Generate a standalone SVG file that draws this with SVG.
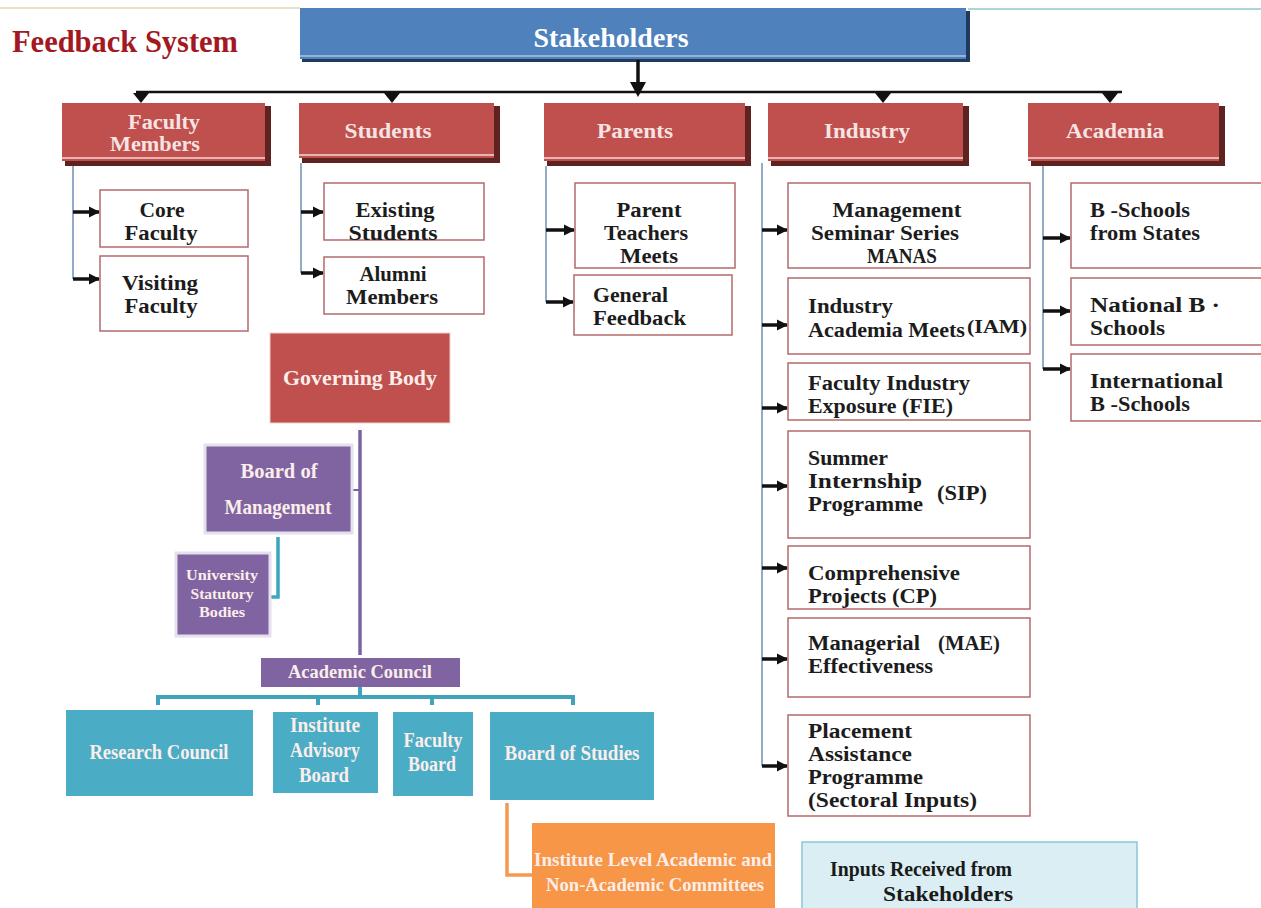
<svg xmlns="http://www.w3.org/2000/svg" width="1261" height="908" viewBox="0 0 1261 908">
<defs>
<style>
text{font-family:"Liberation Serif","DejaVu Serif",serif;font-weight:bold}
.hd{fill:#f6e4e3;font-size:22px;text-anchor:middle}
.bx{fill:#1c1c1c;font-size:20px}
.bc{fill:#1c1c1c;font-size:20px;text-anchor:middle}
.wt{fill:#fbeeea;text-anchor:middle}
.redbox{fill:#c0504d}
.shadow{fill:#5e2220}
.wbox{fill:#ffffff;stroke:#b46a6a;stroke-width:1.5}
.vline{stroke:#6f8fb5;stroke-width:1.5;fill:none}
.sarrow{stroke:#111;stroke-width:3.5;fill:none;marker-end:url(#ah)}
.cyan{fill:#4bacc6}
.purple{fill:#8064a2;stroke:#e6e0ee;stroke-width:3}
</style>
<marker id="ah" viewBox="0 0 10 10" refX="9" refY="5" markerWidth="3.2" markerHeight="3.2" orient="auto" markerUnits="strokeWidth">
<path d="M0,0 L10,5 L0,10 Z" fill="#111"/>
</marker>
</defs>
<rect width="1261" height="908" fill="#ffffff"/>
<line x1="0" y1="8" x2="300" y2="8" stroke="#e8e2c8" stroke-width="2"/>
<line x1="968" y1="9" x2="1261" y2="9" stroke="#8fc9c9" stroke-width="1.5"/>

<g id="title"><text x="12" y="52" style="fill:#a3191f;font-size:32px" textLength="226" lengthAdjust="spacingAndGlyphs">Feedback System</text></g>

<g id="stakeholders">
<rect x="302" y="11" width="668" height="51" fill="#1f3a5c"/>
<rect x="300" y="8" width="666" height="51" fill="#4f81bd"/>
<line x1="300" y1="56" x2="966" y2="56" stroke="#dce6f2" stroke-width="1"/>
<text x="611" y="47" style="fill:#ffffff;font-size:28px;text-anchor:middle" textLength="155" lengthAdjust="spacingAndGlyphs">Stakeholders</text>
</g>

<g id="connectors">
<line x1="638" y1="60" x2="638" y2="84" stroke="#111" stroke-width="3.5"/>
<path d="M630,82 L646,82 L638,97 Z" fill="#111"/>
<line x1="136" y1="92" x2="1122" y2="92" stroke="#111" stroke-width="2.5"/>
<path d="M133,93 L149,93 L141,103 Z" fill="#111"/>
<path d="M384,93 L400,93 L392,103 Z" fill="#111"/>
<path d="M875,93 L891,93 L883,103 Z" fill="#111"/>
<line x1="883" y1="92" x2="883" y2="100" stroke="#111" stroke-width="3"/>
<path d="M1102,93 L1118,93 L1110,103 Z" fill="#111"/>

<path class="vline" d="M73,165 V279"/>
<line class="sarrow" x1="73" y1="212" x2="99" y2="212"/>
<line class="sarrow" x1="73" y1="279" x2="99" y2="279"/>

<path class="vline" d="M301,163 V273"/>
<line class="sarrow" x1="301" y1="212" x2="323" y2="212"/>
<line class="sarrow" x1="301" y1="273" x2="323" y2="273"/>

<path class="vline" d="M546,166 V302"/>
<line class="sarrow" x1="546" y1="230" x2="574" y2="230"/>
<line class="sarrow" x1="546" y1="302" x2="573" y2="302"/>

<path class="vline" d="M762,163 V766"/>
<line class="sarrow" x1="762" y1="230" x2="787" y2="230"/>
<line class="sarrow" x1="762" y1="325" x2="787" y2="325"/>
<line class="sarrow" x1="762" y1="408" x2="787" y2="408"/>
<line class="sarrow" x1="762" y1="486" x2="787" y2="486"/>
<line class="sarrow" x1="762" y1="568" x2="787" y2="568"/>
<line class="sarrow" x1="762" y1="659" x2="787" y2="659"/>
<line class="sarrow" x1="762" y1="766" x2="787" y2="766"/>

<path class="vline" d="M1043,163 V369"/>
<line class="sarrow" x1="1043" y1="238" x2="1070" y2="238"/>
<line class="sarrow" x1="1043" y1="311" x2="1070" y2="311"/>
<line class="sarrow" x1="1043" y1="369" x2="1070" y2="369"/>

<line x1="360" y1="430" x2="360" y2="655" stroke="#7a62a0" stroke-width="3.5"/>
<line x1="352" y1="490" x2="360" y2="490" stroke="#7a62a0" stroke-width="2"/>
<path d="M278,537 V597 H271" stroke="#3aa7bd" stroke-width="3.5" fill="none"/>
<path d="M360,687 V697 M158,705 V697 H573 V705 M318,697 V705 M432,697 V705" stroke="#3fa3bb" stroke-width="4" fill="none"/>
<path d="M507,803 V875 H532" stroke="#f39a50" stroke-width="3.5" fill="none"/>
</g>

<g id="faculty-members">
<rect class="shadow" x="65" y="106" width="206" height="60"/>
<rect class="redbox" x="62" y="103" width="203" height="58"/>
<line x1="62" y1="158" x2="265" y2="158" stroke="#f4d7d6" stroke-width="1.5"/>
<text class="hd" x="164" y="129" style="font-size:20px" textLength="72" lengthAdjust="spacingAndGlyphs">Faculty</text>
<text class="hd" x="155" y="151" style="font-size:20px" textLength="90" lengthAdjust="spacingAndGlyphs">Members</text>
</g>
<g id="students">
<rect class="shadow" x="302" y="106" width="198" height="57"/>
<rect class="redbox" x="299" y="103" width="195" height="55"/>
<line x1="299" y1="155" x2="494" y2="155" stroke="#f4d7d6" stroke-width="1.5"/>
<text class="hd" x="388" y="138" textLength="87" lengthAdjust="spacingAndGlyphs">Students</text>
</g>
<g id="parents">
<rect class="shadow" x="547" y="106" width="204" height="60"/>
<rect class="redbox" x="544" y="103" width="201" height="58"/>
<line x1="544" y1="158" x2="745" y2="158" stroke="#f4d7d6" stroke-width="1.5"/>
<text class="hd" x="635" y="138" textLength="76" lengthAdjust="spacingAndGlyphs">Parents</text>
</g>
<g id="industry">
<rect class="shadow" x="771" y="106" width="198" height="60"/>
<rect class="redbox" x="768" y="103" width="195" height="58"/>
<line x1="768" y1="158" x2="963" y2="158" stroke="#f4d7d6" stroke-width="1.5"/>
<text class="hd" x="867" y="138" textLength="86" lengthAdjust="spacingAndGlyphs">Industry</text>
</g>
<g id="academia">
<rect class="shadow" x="1031" y="106" width="194" height="60"/>
<rect class="redbox" x="1028" y="103" width="191" height="58"/>
<line x1="1028" y1="158" x2="1219" y2="158" stroke="#f4d7d6" stroke-width="1.5"/>
<text class="hd" x="1115" y="138" textLength="98" lengthAdjust="spacingAndGlyphs">Academia</text>
</g>

<g id="core-faculty">
<rect class="wbox" x="100" y="190" width="148" height="57"/>
<text class="bc" x="162" y="217" textLength="45" lengthAdjust="spacingAndGlyphs">Core</text>
<text class="bc" x="161" y="240" textLength="73" lengthAdjust="spacingAndGlyphs">Faculty</text>
</g>
<g id="visiting-faculty">
<rect class="wbox" x="100" y="256" width="148" height="75"/>
<text class="bc" x="160" y="290" textLength="76" lengthAdjust="spacingAndGlyphs">Visiting</text>
<text class="bc" x="161" y="313" textLength="73" lengthAdjust="spacingAndGlyphs">Faculty</text>
</g>
<g id="existing-students">
<rect class="wbox" x="324" y="183" width="160" height="57"/>
<text class="bc" x="395" y="217" textLength="79" lengthAdjust="spacingAndGlyphs">Existing</text>
<text class="bc" x="393" y="240" textLength="89" lengthAdjust="spacingAndGlyphs">Students</text>
</g>
<g id="alumni-members">
<rect class="wbox" x="324" y="257" width="160" height="57"/>
<text class="bc" x="393" y="281" textLength="67" lengthAdjust="spacingAndGlyphs">Alumni</text>
<text class="bc" x="392" y="304" textLength="92" lengthAdjust="spacingAndGlyphs">Members</text>
</g>
<g id="parent-teachers-meets">
<rect class="wbox" x="575" y="183" width="160" height="85"/>
<text class="bc" x="649" y="217" textLength="65" lengthAdjust="spacingAndGlyphs">Parent</text>
<text class="bc" x="646" y="240" textLength="84" lengthAdjust="spacingAndGlyphs">Teachers</text>
<text class="bc" x="649" y="263" textLength="58" lengthAdjust="spacingAndGlyphs">Meets</text>
</g>
<g id="general-feedback">
<rect class="wbox" x="574" y="275" width="158" height="60"/>
<text class="bx" x="593" y="302" textLength="75" lengthAdjust="spacingAndGlyphs">General</text>
<text class="bx" x="593" y="325" textLength="93" lengthAdjust="spacingAndGlyphs">Feedback</text>
</g>

<g id="manas">
<rect class="wbox" x="788" y="183" width="242" height="85"/>
<text class="bc" x="897" y="217" textLength="129" lengthAdjust="spacingAndGlyphs">Management</text>
<text class="bc" x="885" y="240" textLength="148" lengthAdjust="spacingAndGlyphs">Seminar Series</text>
<text class="bc" x="902" y="263" textLength="70" lengthAdjust="spacingAndGlyphs">MANAS</text>
</g>
<g id="iam">
<rect class="wbox" x="788" y="278" width="242" height="76"/>
<text class="bx" x="808" y="313" textLength="85" lengthAdjust="spacingAndGlyphs">Industry</text>
<text class="bx" x="808" y="337" textLength="157" lengthAdjust="spacingAndGlyphs">Academia Meets</text>
<text class="bx" x="967" y="333" style="font-size:19px" textLength="60" lengthAdjust="spacingAndGlyphs">(IAM)</text>
</g>
<g id="fie">
<rect class="wbox" x="788" y="363" width="242" height="57"/>
<text class="bx" x="808" y="390" textLength="162" lengthAdjust="spacingAndGlyphs">Faculty Industry</text>
<text class="bx" x="808" y="413" textLength="145" lengthAdjust="spacingAndGlyphs">Exposure (FIE)</text>
</g>
<g id="sip">
<rect class="wbox" x="788" y="431" width="242" height="107"/>
<text class="bx" x="808" y="465" textLength="80" lengthAdjust="spacingAndGlyphs">Summer</text>
<text class="bx" x="808" y="488" textLength="114" lengthAdjust="spacingAndGlyphs">Internship</text>
<text class="bx" x="808" y="511" textLength="115" lengthAdjust="spacingAndGlyphs">Programme</text>
<text class="bx" x="937" y="500" textLength="50" lengthAdjust="spacingAndGlyphs">(SIP)</text>
</g>
<g id="cp">
<rect class="wbox" x="788" y="546" width="242" height="63"/>
<text class="bx" x="808" y="580" textLength="152" lengthAdjust="spacingAndGlyphs">Comprehensive</text>
<text class="bx" x="808" y="603" textLength="129" lengthAdjust="spacingAndGlyphs">Projects (CP)</text>
</g>
<g id="mae">
<rect class="wbox" x="788" y="618" width="242" height="79"/>
<text class="bx" x="808" y="650" textLength="112" lengthAdjust="spacingAndGlyphs">Managerial</text>
<text class="bx" x="938" y="650" textLength="62" lengthAdjust="spacingAndGlyphs">(MAE)</text>
<text class="bx" x="808" y="673" textLength="125" lengthAdjust="spacingAndGlyphs">Effectiveness</text>
</g>
<g id="placement">
<rect class="wbox" x="788" y="715" width="242" height="101"/>
<text class="bx" x="808" y="738" textLength="104" lengthAdjust="spacingAndGlyphs">Placement</text>
<text class="bx" x="808" y="761" textLength="104" lengthAdjust="spacingAndGlyphs">Assistance</text>
<text class="bx" x="808" y="784" textLength="115" lengthAdjust="spacingAndGlyphs">Programme</text>
<text class="bx" x="808" y="807" textLength="169" lengthAdjust="spacingAndGlyphs">(Sectoral Inputs)</text>
</g>

<g id="b-schools-states">
<rect class="wbox" x="1071" y="183" width="195" height="85"/>
<text class="bx" x="1090" y="217" textLength="100" lengthAdjust="spacingAndGlyphs">B -Schools</text>
<text class="bx" x="1090" y="240" textLength="110" lengthAdjust="spacingAndGlyphs">from States</text>
</g>
<g id="national-b-schools">
<rect class="wbox" x="1071" y="278" width="195" height="67"/>
<text class="bx" x="1090" y="312" textLength="130" lengthAdjust="spacingAndGlyphs">National B    ·</text>
<text class="bx" x="1090" y="335" textLength="75" lengthAdjust="spacingAndGlyphs">Schools</text>
</g>
<g id="international-b-schools">
<rect class="wbox" x="1071" y="354" width="195" height="67"/>
<text class="bx" x="1090" y="388" textLength="133" lengthAdjust="spacingAndGlyphs">International</text>
<text class="bx" x="1090" y="411" textLength="100" lengthAdjust="spacingAndGlyphs">B -Schools</text>
</g>

<g id="governing-body">
<rect x="270" y="333" width="180" height="90" fill="#c0504d" stroke="#f0d0cf" stroke-width="1"/>
<text class="wt" x="360" y="385" style="font-size:22px" textLength="154" lengthAdjust="spacingAndGlyphs">Governing Body</text>
</g>
<g id="board-of-management">
<rect class="purple" x="205" y="445" width="147" height="88"/>
<text class="wt" x="279" y="478" style="font-size:21px" textLength="77" lengthAdjust="spacingAndGlyphs">Board of</text>
<text class="wt" x="278" y="514" style="font-size:20px" textLength="107" lengthAdjust="spacingAndGlyphs">Management</text>
</g>
<g id="university-statutory-bodies">
<rect class="purple" x="176" y="553" width="94" height="83"/>
<text class="wt" x="222" y="580" style="font-size:14px" textLength="72" lengthAdjust="spacingAndGlyphs">University</text>
<text class="wt" x="222" y="599" style="font-size:14px" textLength="63" lengthAdjust="spacingAndGlyphs">Statutory</text>
<text class="wt" x="222" y="617" style="font-size:14px" textLength="46" lengthAdjust="spacingAndGlyphs">Bodies</text>
</g>
<g id="academic-council">
<rect x="261" y="658" width="199" height="29" fill="#8064a2"/>
<text class="wt" x="360" y="678" style="font-size:18px" textLength="144" lengthAdjust="spacingAndGlyphs">Academic Council</text>
</g>
<g id="research-council">
<rect class="cyan" x="66" y="710" width="187" height="86"/>
<text class="wt" x="159" y="759" style="font-size:20px" textLength="139" lengthAdjust="spacingAndGlyphs">Research Council</text>
</g>
<g id="institute-advisory-board">
<rect class="cyan" x="273" y="712" width="105" height="81"/>
<text class="wt" x="325" y="732" style="font-size:20px" textLength="70" lengthAdjust="spacingAndGlyphs">Institute</text>
<text class="wt" x="325" y="757" style="font-size:20px" textLength="70" lengthAdjust="spacingAndGlyphs">Advisory</text>
<text class="wt" x="324" y="782" style="font-size:20px" textLength="50" lengthAdjust="spacingAndGlyphs">Board</text>
</g>
<g id="faculty-board">
<rect class="cyan" x="393" y="712" width="80" height="84"/>
<text class="wt" x="433" y="747" style="font-size:20px" textLength="59" lengthAdjust="spacingAndGlyphs">Faculty</text>
<text class="wt" x="432" y="771" style="font-size:20px" textLength="48" lengthAdjust="spacingAndGlyphs">Board</text>
</g>
<g id="board-of-studies">
<rect class="cyan" x="490" y="712" width="164" height="88"/>
<text class="wt" x="572" y="760" style="font-size:20px" textLength="135" lengthAdjust="spacingAndGlyphs">Board of Studies</text>
</g>
<g id="institute-level-committees">
<rect x="532" y="823" width="243" height="85" fill="#f79646"/>
<text class="wt" x="653" y="866" style="font-size:19px" textLength="238" lengthAdjust="spacingAndGlyphs">Institute Level Academic  and</text>
<text class="wt" x="655" y="891" style="font-size:19px" textLength="218" lengthAdjust="spacingAndGlyphs">Non-Academic  Committees</text>
</g>
<g id="inputs-received">
<rect x="802" y="842" width="335" height="70" fill="#dbeef4" stroke="#8cc6d8" stroke-width="1.5"/>
<text x="830" y="876" style="fill:#1a1a1a;font-size:22px" textLength="182" lengthAdjust="spacingAndGlyphs">Inputs Received from</text>
<text x="883" y="901" style="fill:#1a1a1a;font-size:22px" textLength="130" lengthAdjust="spacingAndGlyphs">Stakeholders</text>
</g>
</svg>
